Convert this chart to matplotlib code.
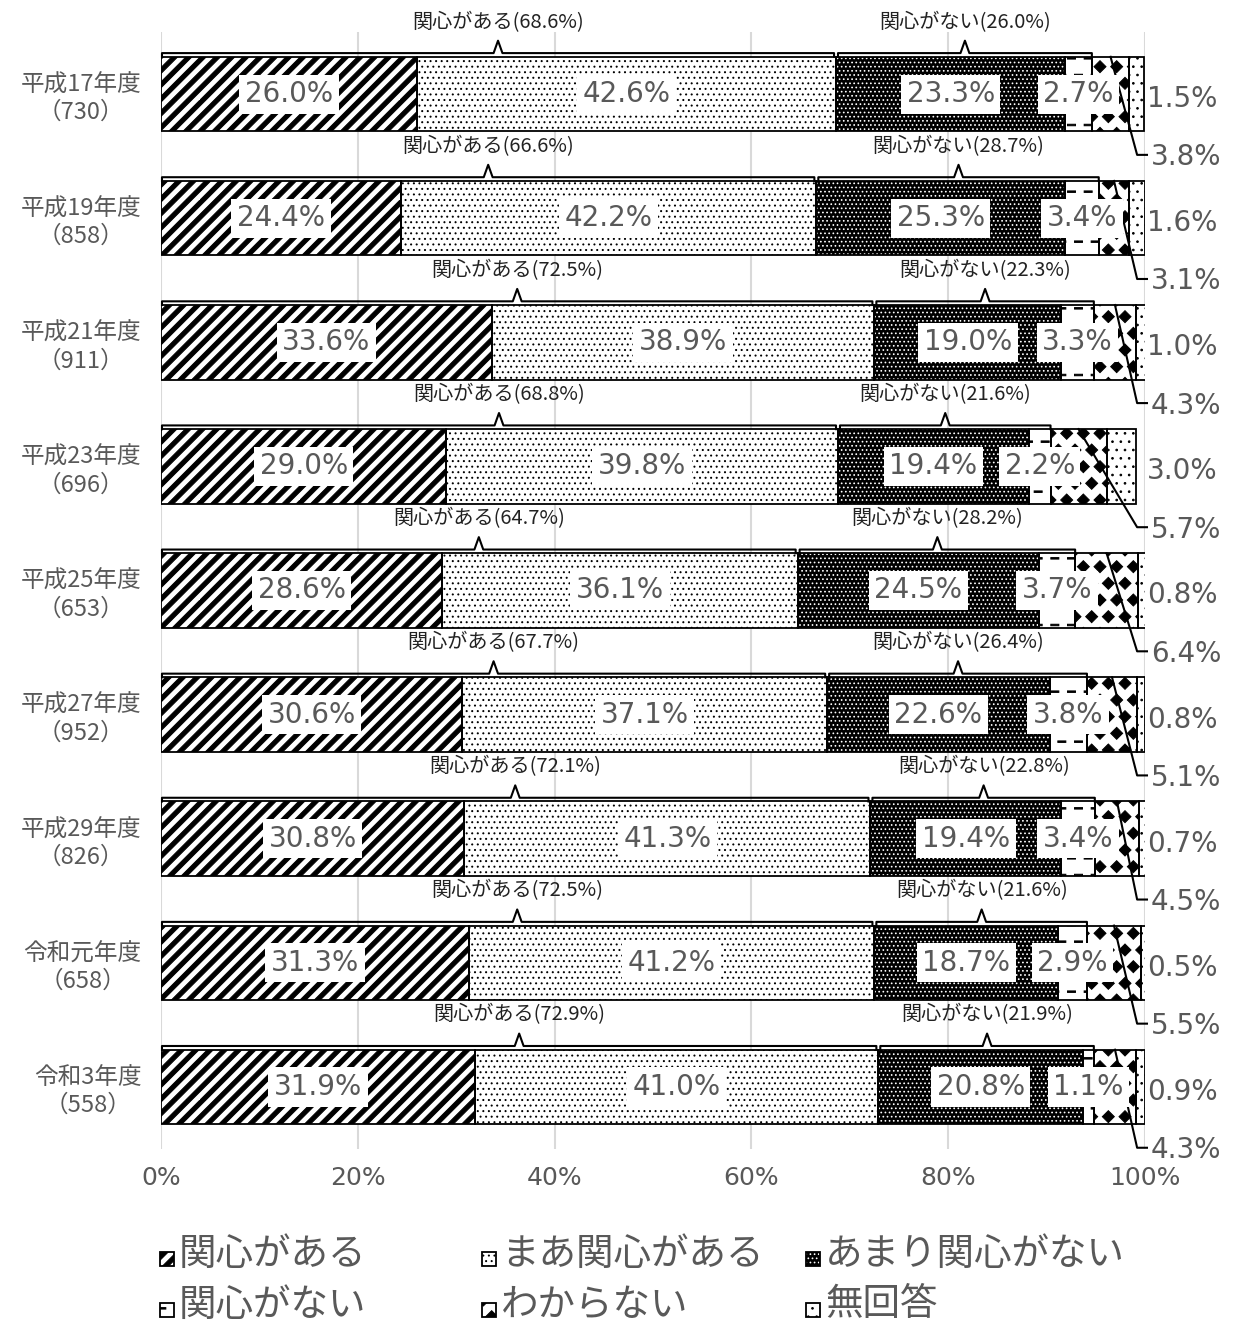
import numpy as np
import matplotlib as mpl
mpl.use('Agg')
import matplotlib.pyplot as plt
import matplotlib.hatch as mhatch
import matplotlib.patches as mpatches
from matplotlib.path import Path

plt.rcParams['font.family'] = ['Noto Sans CJK JP', 'DejaVu Sans']
plt.rcParams['hatch.linewidth'] = 0.7

# ---------------- data ----------------
categories = ['平成17年度\n（730）', '平成19年度\n（858）', '平成21年度\n（911）',
              '平成23年度\n（696）', '平成25年度\n（653）', '平成27年度\n（952）',
              '平成29年度\n（826）', '令和元年度\n（658）', '令和3年度\n（558）']
series_names = ['関心がある', 'まあ関心がある', 'あまり関心がない', '関心がない', 'わからない', '無回答']
v_kanshin = [26.0, 24.4, 33.6, 29.0, 28.6, 30.6, 30.8, 31.3, 31.9]
v_maa = [42.6, 42.2, 38.9, 39.8, 36.1, 37.1, 41.3, 41.2, 41.0]
v_amari = [23.3, 25.3, 19.0, 19.4, 24.5, 22.6, 19.4, 18.7, 20.8]
v_nai = [2.7, 3.4, 3.3, 2.2, 3.7, 3.8, 3.4, 2.9, 1.1]
v_wakaranai = [3.8, 3.1, 4.3, 5.7, 6.4, 5.1, 4.5, 5.5, 4.3]
v_mukaitou = [1.5, 1.6, 1.0, 3.0, 0.8, 0.8, 0.7, 0.5, 0.9]
group_aru = [68.6, 66.6, 72.5, 68.8, 64.7, 67.7, 72.1, 72.5, 72.9]
group_nai = [26.0, 28.7, 22.3, 21.6, 28.2, 26.4, 22.8, 21.6, 21.9]
xticks = [0, 20, 40, 60, 80, 100]
xticklabels = ['0%', '20%', '40%', '60%', '80%', '100%']

series = [v_kanshin, v_maa, v_amari, v_nai, v_wakaranai, v_mukaitou]


# ---------------- custom hatch patterns (filled geometry) ----------------
class ThickStripes(mhatch.HatchPatternBase):
    """'/' : thick filled diagonal bands."""
    def __init__(self, hatch, density):
        cnt = hatch.count('/')
        self.n = 7 * cnt
        self.frac = 0.42
        self.num_vertices = 2 * self.n * 5 if cnt else 0

    def set_vertices_and_codes(self, vertices, codes):
        p = 1.0 / self.n
        bw = self.frac * p
        k = 0
        for i in range(-self.n, self.n):
            t = i * p
            vertices[k:k + 5] = [(t, 0), (t + bw, 0), (t + bw + 1, 1), (t + 1, 1), (t, 0)]
            codes[k:k + 5] = [Path.MOVETO, Path.LINETO, Path.LINETO, Path.LINETO, Path.CLOSEPOLY]
            k += 5


class Dashes(mhatch.HatchPatternBase):
    """'-' : short filled horizontal dashes on a staggered grid."""
    def __init__(self, hatch, density):
        cnt = hatch.count('-')
        self.n = 6 * cnt
        self.num_vertices = self.n * self.n * 5 if cnt else 0

    def set_vertices_and_codes(self, vertices, codes):
        p = 1.0 / self.n
        L = 0.48 * p
        h = 0.09 * p
        k = 0
        for r in range(self.n):
            yy = (r + 0.5) * p
            xoff = 0.05 * p if r % 2 == 0 else 0.47 * p
            for c in range(self.n):
                x = c * p + xoff
                vertices[k:k + 5] = [(x, yy - h / 2), (x + L, yy - h / 2), (x + L, yy + h / 2),
                                     (x, yy + h / 2), (x, yy - h / 2)]
                codes[k:k + 5] = [Path.MOVETO, Path.LINETO, Path.LINETO, Path.LINETO,
                                  Path.CLOSEPOLY]
                k += 5


class Diamonds(mhatch.Shapes):
    """'*' : filled diamonds."""
    size = 0.36
    filled = True

    def __init__(self, hatch, density):
        self.num_rows = hatch.count('*') * density
        path = Path.unit_regular_polygon(4)
        self.shape_vertices = path.vertices
        self.shape_codes = path.codes
        super().__init__(hatch, density)


mhatch._hatch_types[:] = [ThickStripes, Dashes, Diamonds,
                          mhatch.SmallFilledCircles, mhatch.SmallCircles]

styles = [
    dict(face='white', hatch='/', hcolor='black'),
    dict(face='white', hatch='...', hcolor='black'),
    dict(face='black', hatch='....', hcolor='white'),
    dict(face='white', hatch='-', hcolor='black'),
    dict(face='white', hatch='*', hcolor='black'),
    dict(face='white', hatch='..', hcolor='black'),
]

GRAY = '#595959'
BAR_H = 0.6

fig = plt.figure(figsize=(12.37, 13.26), dpi=100)
ax = fig.add_axes([161 / 1237, 1 - 1149 / 1326, (1145 - 161) / 1237, (1149 - 32) / 1326])

y = np.arange(len(categories))
lefts = np.zeros(len(categories))
for vals, st in zip(series, styles):
    vals = np.array(vals)
    ax.barh(y, vals, left=lefts, height=BAR_H, color=st['face'],
            edgecolor=st['hcolor'], linewidth=0, hatch=st['hatch'], zorder=2)
    ax.barh(y, vals, left=lefts, height=BAR_H, fill=False, edgecolor='black',
            linewidth=1.3, zorder=3)
    lefts = lefts + vals

# value labels, leader lines and brackets
for i in range(len(categories)):
    vals_i = np.array([s[i] for s in series])
    cum = np.cumsum(vals_i)
    starts = cum - vals_i
    for j in range(4):
        xc = (starts[j] + cum[j]) / 2
        ax.text(xc, i, f'{series[j][i]:.1f}%', ha='center', va='center', fontsize=20,
                color=GRAY, family='DejaVu Sans', zorder=6,
                bbox=dict(boxstyle='square,pad=0.2', fc='white', ec='none'))
    top = i - BAR_H / 2
    xs = (starts[4] + cum[4]) / 2
    yb = i + 0.49
    ax.plot([xs, 99.2, 100.2], [top, yb, yb], color='black', lw=1.5, zorder=5, clip_on=False)
    ax.text(100.6, yb + 0.02, f'{series[4][i]:.1f}%', ha='left', va='center', fontsize=20,
            color=GRAY, family='DejaVu Sans', zorder=6, clip_on=False)
    ax.text(100.2, i + 0.04, f'{series[5][i]:.1f}%', ha='left', va='center', fontsize=20,
            color=GRAY, family='DejaVu Sans', zorder=6, clip_on=False)

    def bracket(x0, x1, label):
        yl = top - 0.03
        pk = top - 0.13
        xm = (x0 + x1) / 2
        d = 0.45
        ax.plot([x0, x0, xm - d, xm, xm + d, x1, x1], [top, yl, yl, pk, yl, yl, top],
                color='black', lw=1.5, zorder=5, clip_on=False)
        ax.text(xm, top - 0.28, label, ha='center', va='center', fontsize=14.5,
                color='#222222', zorder=6, clip_on=False)

    bracket(0.1, cum[1] - 0.2, f'関心がある({group_aru[i]:.1f}%)')
    bracket(cum[1] + 0.2, cum[3], f'関心がない({group_nai[i]:.1f}%)')

ax.set_xlim(0, 100)
ax.set_ylim(len(categories) - 0.5, -0.5)
ax.set_xticks(xticks)
ax.set_xticklabels(xticklabels, fontsize=18, color=GRAY, family='DejaVu Sans')
ax.set_yticks(y)
ax.set_yticklabels(categories, fontsize=17, color=GRAY, linespacing=1.25)
for lab in ax.get_yticklabels():
    lab.set_multialignment('center')
ax.tick_params(axis='both', length=0)
ax.tick_params(axis='y', pad=14)
ax.tick_params(axis='x', pad=12)
for s in ax.spines.values():
    s.set_visible(False)
ax.set_axisbelow(True)
ax.grid(axis='x', color='#d9d9d9', lw=1.5, zorder=0)
ax.grid(axis='y', visible=False)

# legend (manual, row-wise)
leg_cols = [160, 482, 806]
leg_rows = [1254, 1305]
W, H = 1237, 1326
for k, (name, st) in enumerate(zip(series_names, styles)):
    r, c = divmod(k, 3)
    x0 = leg_cols[c]
    yc = leg_rows[r]
    sz = 14
    fig.add_artist(mpatches.Rectangle((x0 / W, 1 - (yc + 5 + sz / 2) / H), sz / W, sz / H,
                                      transform=fig.transFigure, facecolor=st['face'],
                                      edgecolor=st['hcolor'], linewidth=0, hatch=st['hatch']))
    fig.add_artist(mpatches.Rectangle((x0 / W, 1 - (yc + 5 + sz / 2) / H), sz / W, sz / H,
                                      transform=fig.transFigure, fill=False,
                                      edgecolor='black', linewidth=1.3))
    fig.text((x0 + 19) / W, 1 - yc / H, name, ha='left', va='center', fontsize=27,
             color=GRAY)

fig.savefig('out.png', dpi=100)
